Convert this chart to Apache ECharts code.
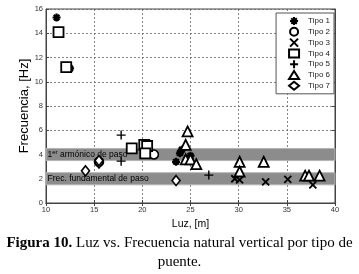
<!DOCTYPE html>
<html>
<head>
<meta charset="utf-8">
<script src="https://cdn.jsdelivr.net/npm/echarts@6/dist/echarts.min.js"></script>
<style>
  html, body { margin: 0; padding: 0; background: #fff; }
  #chart { width: 359px; height: 274px; }
</style>
</head>
<body>
<div id="chart"></div>
<script>
'use strict';
// datos: [luz m, frecuencia Hz]
var tipo1 = [[11.1, 15.3], [12.5, 11.1], [23.5, 3.4], [23.9, 4.1], [24.1, 4.4], [25.0, 3.9], [24.9, 3.6]];
var tipo2 = [[15.5, 3.4], [21.2, 4.0]];
var tipo3 = [[29.6, 2.0], [30.1, 1.9], [32.8, 1.75], [35.1, 1.95], [37.7, 1.5]];
var tipo4 = [[11.3, 14.1], [12.1, 11.2], [18.9, 4.5], [20.2, 4.8], [20.5, 4.7], [20.3, 4.1]];
var tipo5 = [[17.8, 5.6], [17.8, 3.45], [26.9, 2.3]];
var tipo6 = [[24.7, 5.9], [24.5, 4.8], [24.5, 3.6], [25.0, 3.6], [25.6, 3.2], [30.1, 3.4], [30.1, 2.6], [32.6, 3.4], [36.9, 2.25], [37.3, 2.25], [38.4, 2.25]];
var tipo7 = [[14.1, 2.65], [15.5, 3.3], [15.5, 3.5], [23.5, 1.85]];
var bandas = [[3.5, 4.5], [1.5, 2.5]];

var asterisco = 'path://M5,0L5,10M0,5L10,5M1.5,1.5L8.5,8.5M8.5,1.5L1.5,8.5';
var cruz = 'path://M0,0L10,10M10,0L0,10';
var mas = 'path://M5,0L5,10M0,5L10,5';

function serie(nombre, datos, simbolo, tam, grosor) {
    return {
        name: nombre,
        type: 'scatter',
        data: datos,
        symbol: simbolo,
        symbolSize: tam,
        itemStyle: {
            color: simbolo.indexOf('path://') === 0 ? 'rgba(0,0,0,0)' : '#fff',
            borderColor: '#000',
            borderWidth: grosor,
            opacity: 1
        },
        z: 5
    };
}

var series = [
    serie('Tipo 1', tipo1, asterisco, 8, 2.2),
    serie('Tipo 2', tipo2, 'circle', 9, 1.6),
    serie('Tipo 3', tipo3, cruz, 7, 1.8),
    serie('Tipo 4', tipo4, 'rect', 10, 1.8),
    serie('Tipo 5', tipo5, mas, 9, 1.4),
    serie('Tipo 6', tipo6, 'triangle', 10, 1.8),
    serie('Tipo 7', tipo7, 'diamond', [8, 10], 1.6)
];

// bandas grises de frecuencias de paso
series.push({
    type: 'scatter',
    data: [],
    silent: true,
    markArea: {
        silent: true,
        itemStyle: { color: '#8c8c8c', borderColor: '#b4b4b4', borderWidth: 1 },
        label: {
            position: 'insideLeft',
            fontFamily: 'Liberation Sans',
            fontSize: 8.5,
            color: '#000',
            offset: [-3, 0],
            rich: {
                a: { fontFamily: 'Liberation Sans', fontSize: 8.5, color: '#000' },
                s: { fontFamily: 'Liberation Sans', fontSize: 6, color: '#000', verticalAlign: 'top', padding: [0, 0, 5, 0] }
            }
        },
        data: [
            [{ yAxis: bandas[0][0], xAxis: 10, name: '{a|1}{s|er}{a| armónico de paso}' }, { yAxis: bandas[0][1], xAxis: 40 }],
            [{ yAxis: bandas[1][0], xAxis: 10, name: 'Frec. fundamental de paso' }, { yAxis: bandas[1][1], xAxis: 40 }]
        ]
    },
    z: 1
});

var chart = echarts.init(document.getElementById('chart'));
var gris = '#333';
var option = {
    animation: false,
    backgroundColor: '#fff',
    grid: { left: 46, right: 24, top: 9, bottom: 71, show: true, borderColor: '#444', borderWidth: 1 },
    legend: {
        orient: 'vertical',
        right: 25,
        top: 13,
        itemWidth: 10,
        itemHeight: 8,
        itemGap: 0.8,
        padding: [3, 4, 3, 12],
        backgroundColor: '#fff',
        borderColor: '#555',
        borderWidth: 1,
        borderRadius: 0,
        textStyle: { fontFamily: 'Liberation Sans', fontSize: 8, lineHeight: 9, color: '#222', padding: [0, 0, 0, 4] },
        data: ['Tipo 1', 'Tipo 2', 'Tipo 3', 'Tipo 4', 'Tipo 5', 'Tipo 6', 'Tipo 7']
    },
    xAxis: [
        {
            type: 'value',
            min: 10, max: 40, interval: 5,
            name: 'Luz, [m]',
            nameLocation: 'middle',
            nameGap: 14,
            nameTextStyle: { fontFamily: 'Liberation Sans', fontSize: 10.5, color: '#000' },
            axisLine: { show: true, lineStyle: { color: '#444' } },
            axisTick: { inside: true, length: 3, lineStyle: { color: '#444' } },
            axisLabel: { fontFamily: 'Liberation Sans', fontSize: 7.5, color: gris, margin: 3 },
            splitLine: { show: true, lineStyle: { color: '#666', type: [2, 2], width: 0.8 } }
        },
        {
            type: 'value', position: 'top',
            min: 10, max: 40, interval: 5,
            axisLine: { show: true, lineStyle: { color: '#444' } },
            axisTick: { inside: true, length: 3, lineStyle: { color: '#444' } },
            axisLabel: { show: false },
            splitLine: { show: false }
        }
    ],
    yAxis: [
        {
            type: 'value',
            min: 0, max: 16, interval: 2,
            name: 'Frecuencia, [Hz]',
            nameLocation: 'middle',
            nameGap: 15,
            nameMoveOverlap: false,
            nameTextStyle: { fontFamily: 'Liberation Sans', fontSize: 13, color: '#000' },
            axisLine: { show: true, lineStyle: { color: '#444' } },
            axisTick: { inside: true, length: 3, lineStyle: { color: '#444' } },
            axisLabel: { fontFamily: 'Liberation Sans', fontSize: 7.5, color: gris, margin: 3 },
            splitLine: { show: true, lineStyle: { color: '#666', type: [2, 2], width: 0.8 } }
        },
        {
            type: 'value', position: 'right',
            min: 0, max: 16, interval: 2,
            axisLine: { show: true, lineStyle: { color: '#444' } },
            axisTick: { inside: true, length: 3, lineStyle: { color: '#444' } },
            axisLabel: { show: false },
            splitLine: { show: false }
        }
    ],
    graphic: [
        {
            type: 'text',
            left: 'center',
            top: 236,
            style: {
                text: '{b|Figura 10.}{r| Luz vs. Frecuencia natural vertical por tipo de}',
                rich: {
                    b: { fontFamily: 'Liberation Serif', fontSize: 15, fontWeight: 'bold', fill: '#000' },
                    r: { fontFamily: 'Liberation Serif', fontSize: 15, fill: '#000' }
                }
            }
        },
        {
            type: 'text',
            left: 'center',
            top: 255,
            style: { text: 'puente.', fontFamily: 'Liberation Serif', fontSize: 15, fill: '#000' }
        }
    ],
    series: series
};
chart.setOption(option);
</script>
</body>
</html>
